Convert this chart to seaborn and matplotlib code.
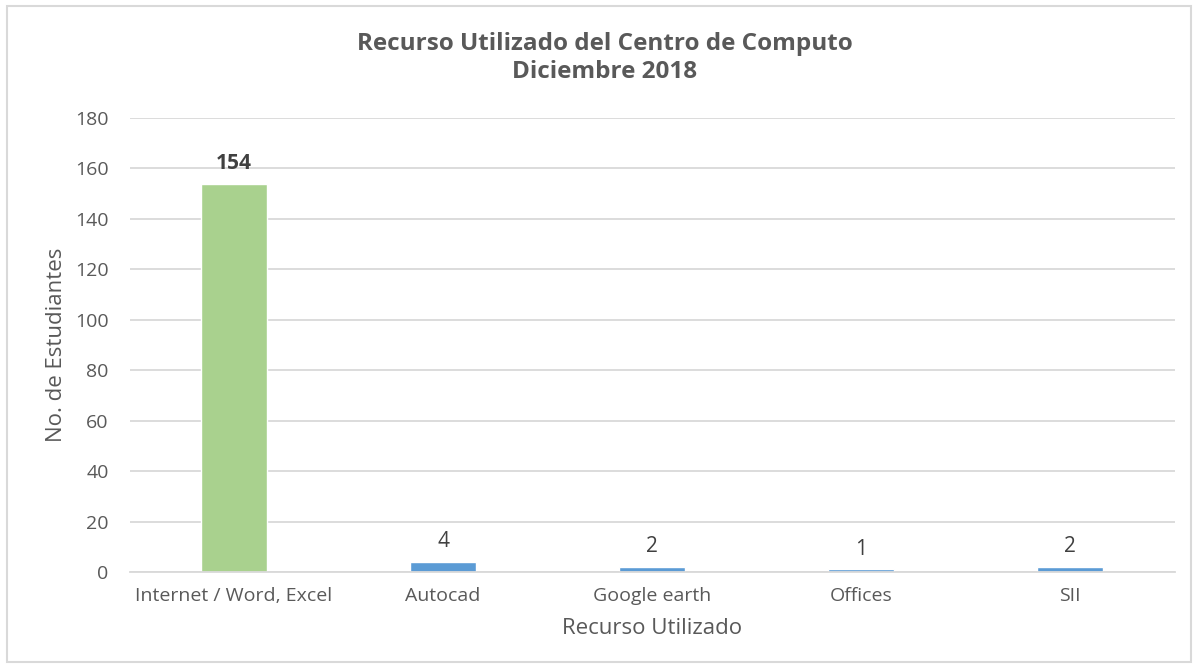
import matplotlib
matplotlib.use("Agg")
import matplotlib.pyplot as plt
import seaborn as sns
import pandas as pd
from matplotlib.patches import Rectangle

categories = ["Internet / Word, Excel", "Autocad", "Google earth", "Offices", "SII"]
values = [154, 4, 2, 1, 2]
bar_colors = ["#A9D18E", "#5B9BD5", "#5B9BD5", "#5B9BD5", "#5B9BD5"]
yticks = [0, 20, 40, 60, 80, 100, 120, 140, 160, 180]

sns.set_theme(style="white")
plt.rcParams['font.family'] = ['Open Sans', 'DejaVu Sans']

df = pd.DataFrame({"Recurso": categories, "Estudiantes": values})

fig = plt.figure(figsize=(11.98, 6.68), dpi=100)
ax = fig.add_axes([129.5/1198, 1 - 572/668, 1045/1198, (572-118)/668])

sns.barplot(data=df, x="Recurso", y="Estudiantes", hue="Recurso",
            palette=bar_colors, width=0.316, legend=False, ax=ax, saturation=1)

ax.set_ylim(0, 180)
ax.set_xlim(-0.5, 4.5)
ax.set_yticks(yticks)
ax.yaxis.grid(True, color="#D9D9D9", linewidth=1.3)
ax.set_axisbelow(True)
for s in ["top", "right", "left"]:
    ax.spines[s].set_visible(False)
ax.spines["bottom"].set_color("#D9D9D9")
ax.spines["bottom"].set_linewidth(1.3)
ax.tick_params(axis="both", length=0, labelsize=14, colors="#595959")
ax.tick_params(axis="x", pad=11)
ax.tick_params(axis="y", pad=15)
ax.set_xlabel("Recurso Utilizado", fontsize=16, color="#595959", labelpad=9)
ax.set_ylabel("No. de Estudiantes", fontsize=16, color="#595959", labelpad=6)

for i, v in enumerate(values):
    ax.annotate(str(v), (i, v), xytext=(0, 7), textcoords="offset points",
                ha="center", va="bottom", fontsize=15,
                fontweight="bold" if i == 0 else "normal", color="#404040")

fig.text(605/1198, 1 - 58/668, "Recurso Utilizado del Centro de Computo\nDiciembre 2018",
         ha="center", va="center", fontsize=17.5, fontweight="bold", color="#595959",
         linespacing=1.2)

fig.patches.append(Rectangle((7/1198, 6/668), (1191-7)/1198, (662-6)/668,
                             transform=fig.transFigure, fill=False,
                             edgecolor="#D9D9D9", linewidth=1.5))

fig.savefig("out.png", dpi=100)
